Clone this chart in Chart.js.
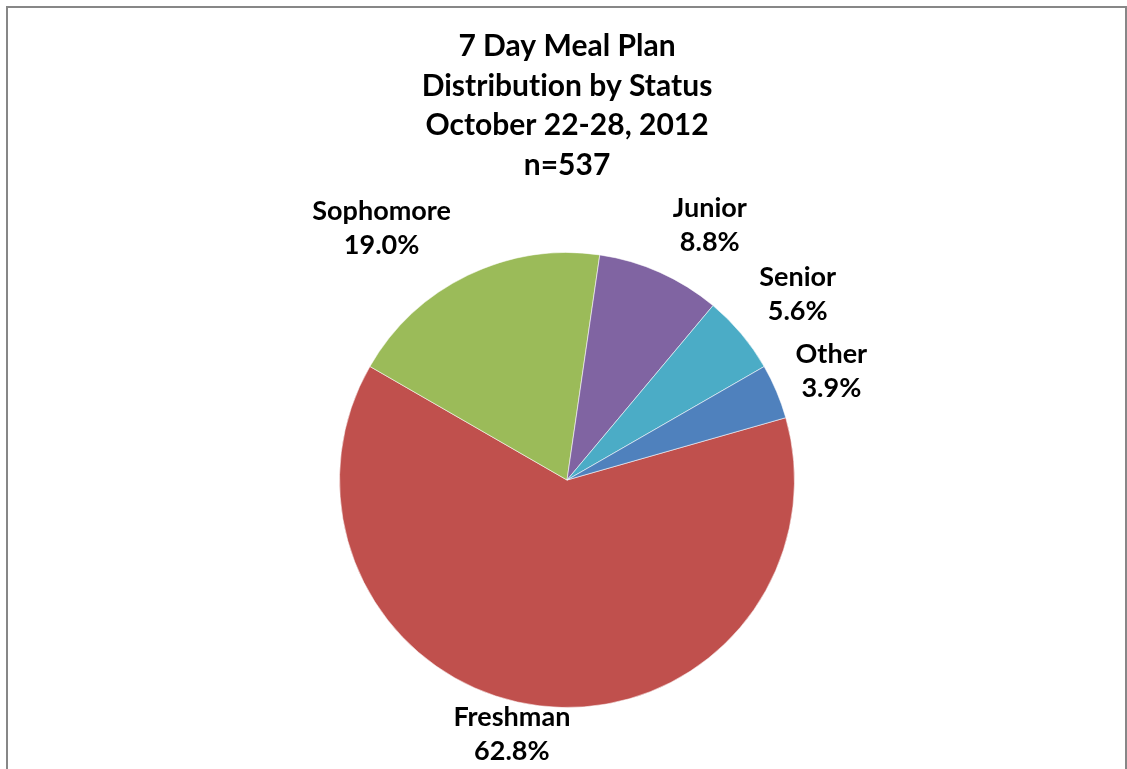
<!DOCTYPE html>
<html>
<head>
<meta charset="utf-8">
<script src="https://cdn.jsdelivr.net/npm/chart.js@4/dist/chart.umd.min.js"></script>
<style>
  html, body { margin: 0; padding: 0; background: #fff; }
  #wrap { position: absolute; left: 0; top: 0; width: 1127px; height: 769px; overflow: hidden; }
  #frame { position: absolute; left: 6px; top: 6px; width: 1121px; height: 900px;
           box-sizing: border-box; border: 2px solid #878787; pointer-events: none; }
  canvas { position: absolute; left: 0; top: 0; }
</style>
</head>
<body>
<div id="wrap">
  <canvas id="chart" width="1127" height="769"></canvas>
  <div id="frame"></div>
</div>
<script>
// Meal plan holders by class standing (percent of n=537)
const categories = ['Freshman', 'Sophomore', 'Junior', 'Senior', 'Other'];
const shares = [62.8, 19.0, 8.8, 5.6, 3.9];
const titleLines = ['7 Day Meal Plan', 'Distribution by Status', 'October 22-28, 2012', 'n=537'];

const sliceColors = ['#C0504D', '#9BBB59', '#8064A2', '#4BACC6', '#4F81BD'];
// Label placement relative to each slice: angular nudge (deg) and distance as a multiple of the radius
const labelPlacement = [
  { nudge: 5.2, reach: 1.144 },
  { nudge: -10.5, reach: 1.374 },
  { nudge: 5.2, reach: 1.282 },
  { nudge: 1.2, reach: 1.301 },
  { nudge: 0.5, reach: 1.257 }
];

const FONT = 'Lato, "Liberation Sans", sans-serif';

// A tiny letter spacing keeps the font from merging "ti" into a ligature
const noLigatures = {
  id: 'noLigatures',
  beforeDraw(chart) {
    if ('letterSpacing' in chart.ctx) chart.ctx.letterSpacing = '0.01px';
  }
};

const sliceLabels = {
  id: 'sliceLabels',
  afterDatasetsDraw(chart) {
    const ctx = chart.ctx;
    const meta = chart.getDatasetMeta(0);
    const ds = chart.data.datasets[0];
    ctx.save();
    ctx.font = 'bold 27px ' + FONT;
    ctx.fillStyle = '#000';
    ctx.textAlign = 'center';
    ctx.textBaseline = 'middle';
    meta.data.forEach((arc, i) => {
      const p = arc.getProps(['x', 'y', 'startAngle', 'endAngle', 'outerRadius'], true);
      const place = labelPlacement[i];
      const mid = (p.startAngle + p.endAngle) / 2 + place.nudge * Math.PI / 180;
      const d = p.outerRadius * place.reach;
      const cx = p.x + Math.cos(mid) * d;
      const cy = p.y + Math.sin(mid) * d;
      ctx.fillText(chart.data.labels[i], cx, cy - 17);
      ctx.fillText(ds.data[i].toFixed(1) + '%', cx, cy + 17);
    });
    ctx.restore();
  }
};

new Chart(document.getElementById('chart'), {
  type: 'pie',
  data: {
    labels: categories,
    datasets: [{
      data: shares,
      backgroundColor: sliceColors,
      borderColor: 'rgba(255,255,255,0.55)',
      borderWidth: 1
    }]
  },
  options: {
    responsive: false,
    animation: false,
    rotation: 74.1,
    layout: { padding: { top: 0, left: 7, right: 0, bottom: 61 } },
    plugins: {
      legend: { display: false },
      tooltip: { enabled: false },
      title: {
        display: true,
        text: titleLines,
        color: '#000',
        font: { family: FONT, size: 30, weight: 'bold', lineHeight: 1.317 },
        padding: { top: 26.75, bottom: 67.25 }
      }
    }
  },
  plugins: [noLigatures, sliceLabels]
});
</script>
</body>
</html>
